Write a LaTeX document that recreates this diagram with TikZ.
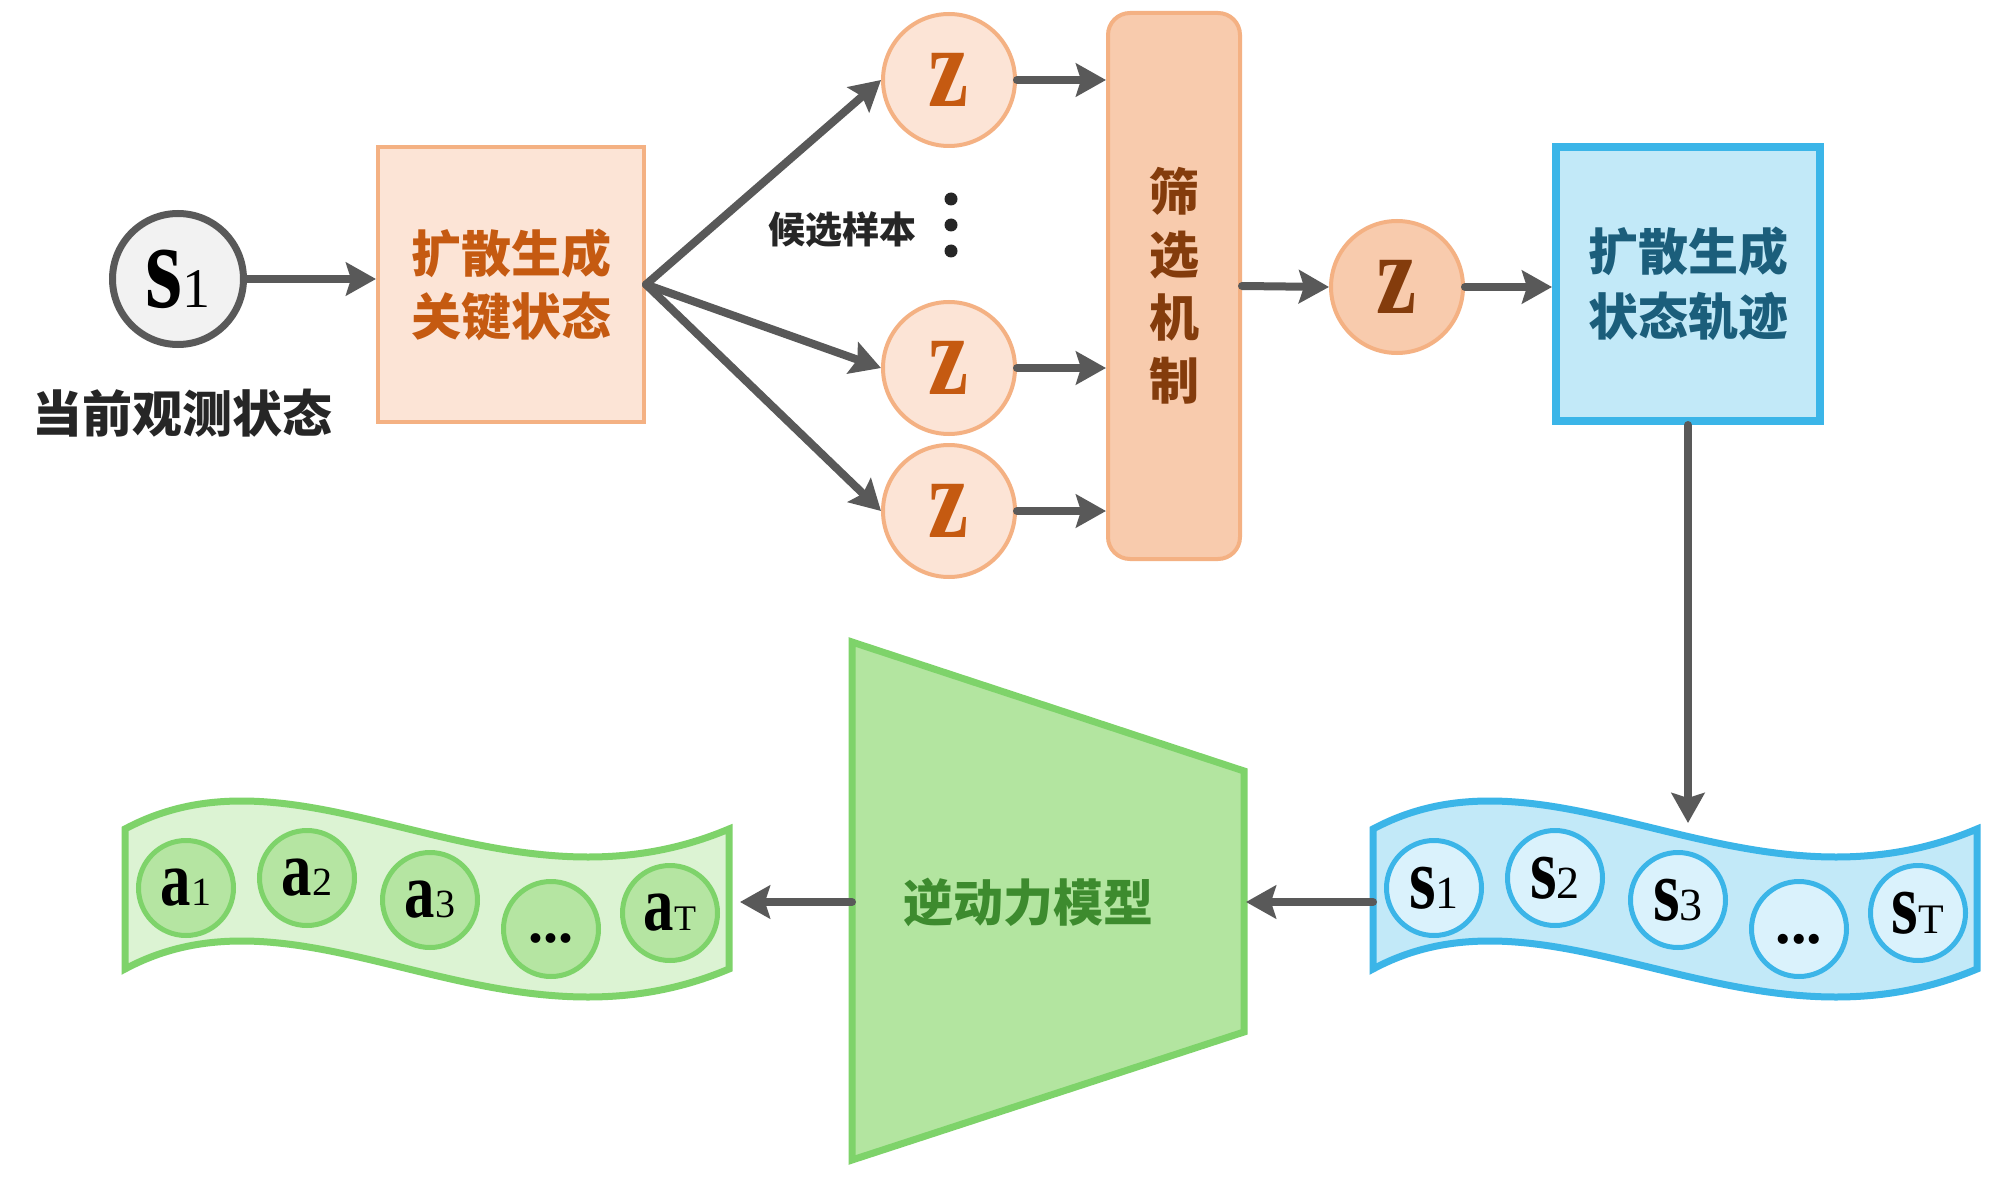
\documentclass[tikz,border=0pt]{standalone}
\usepackage{fontspec}
\usepackage{graphicx}
\usetikzlibrary{arrows.meta,calc}
\newfontfamily\cjk{Noto Sans CJK SC}
\newfontfamily\tnr{Liberation Serif}
\definecolor{arrowgray}{HTML}{595959}
\definecolor{darktext}{HTML}{262626}
\definecolor{lightgraybg}{HTML}{F2F2F2}
\definecolor{peach}{HTML}{FCE4D6}
\definecolor{peachdark}{HTML}{F8CBAD}
\definecolor{peachborder}{HTML}{F4B183}
\definecolor{orangetext}{HTML}{C55A11}
\definecolor{browntext}{HTML}{843C0C}
\definecolor{bblue}{HTML}{3BB5E8}
\definecolor{bboxfill}{HTML}{C2E9F8}
\definecolor{bcirclefill}{HTML}{DAF2FC}
\definecolor{bluetext}{HTML}{1B5E7B}
\definecolor{ggreen}{HTML}{7ED36A}
\definecolor{gbandfill}{HTML}{DCF3D3}
\definecolor{gcirclefill}{HTML}{B5E5A2}
\definecolor{trapfill}{HTML}{B3E5A0}
\definecolor{greentext}{HTML}{3D8B2E}
\newcommand\lettersub[4]{\scalebox{0.95}[1.22]{\tnr\bfseries\fontsize{#3}{#3}\selectfont #1}{\tnr\fontsize{#4}{#4}\selectfont #2}}
\newcommand\cjkfont[2]{\cjk\bfseries\fontsize{#1}{#2}\selectfont}
\newcommand\dotsnode[1]{{\tnr\bfseries\fontsize{#1}{#1}\selectfont\vphantom{s}...}}
\tikzset{
  arr/.style={draw=arrowgray, line width=8pt, line cap=round,
    -{Stealth[length=30pt,width=33pt,inset=5pt]}},
  zcircle/.style={circle, draw=peachborder, fill=peach, line width=4pt,
    minimum size=132pt, inner sep=0pt, text=orangetext},
  bcircle/.style={circle, draw=bblue, fill=bcirclefill, line width=5pt,
    minimum size=95pt, inner sep=0pt},
  gcircle/.style={circle, draw=ggreen, fill=gcirclefill, line width=5pt,
    minimum size=95pt, inner sep=0pt},
  band/.pic={\path[pic actions] (0,829) .. controls (181,732) and (374,926) .. (604,829)
     -- (604,969) .. controls (374,1066) and (181,872) .. (0,969) -- cycle;}
}
\begin{document}
\begin{tikzpicture}[x=1pt,y=-1pt]
\useasboundingbox (0,0) rectangle (2000,1182);
\fill[white] (0,0) rectangle (2000,1182);

% ---------- top row ----------
\node[circle, draw=arrowgray, fill=lightgraybg, line width=7pt, minimum size=131pt, inner sep=0pt]
  (s1main) at (178,279) {\lettersub{s}{1}{100}{56}};
\node[text=darktext, font={\cjkfont{50}{60}}] (obs) at (182,413) {当前观测状态};

\node[rectangle, draw=peachborder, fill=peach, line width=4pt, minimum width=266pt,
  minimum height=275pt, align=center, text=orangetext, font={\cjkfont{50}{63}}]
  (kbox) at (511,284.5) {扩散生成\\关键状态};

\node[zcircle] (z1) at (949,80) {\lettersub{z}{}{95}{40}};
\node[zcircle] (z2) at (949,368) {\lettersub{z}{}{95}{40}};
\node[zcircle] (z3) at (949,511) {\lettersub{z}{}{95}{40}};

\node[text=darktext, font={\cjkfont{37}{40}}] (cand) at (842,230) {候选样本};
\fill[darktext] (951,199) circle (6.5);
\fill[darktext] (951,225) circle (6.5);
\fill[darktext] (951,251) circle (6.5);

\node[rectangle, rounded corners=22pt, draw=peachborder, fill=peachdark, line width=4pt,
  minimum width=132pt, minimum height=546pt, align=center, text=browntext,
  font={\cjkfont{50}{63}}] (filter) at (1174,286) {筛\\选\\机\\制};

\node[zcircle, fill=peachdark, text=browntext] (zf) at (1397,287) {\lettersub{z}{}{95}{40}};

\node[rectangle, draw=bblue, fill=bboxfill, line width=8pt, minimum width=264pt,
  minimum height=274pt, align=center, text=bluetext, font={\cjkfont{50}{65}}]
  (bbox) at (1688,284) {扩散生成\\状态轨迹};

% ---------- bottom row ----------
\pic[draw=bblue, fill=bboxfill, line width=7pt] at (1373,0) {band};
\pic[draw=ggreen, fill=gbandfill, line width=7pt] at (125,0) {band};

\node[bcircle] (bs1) at (1434,888) {\lettersub{s}{1}{72}{46}};
\node[bcircle] (bs2) at (1555,878) {\lettersub{s}{2}{72}{46}};
\node[bcircle] (bs3) at (1678,900) {\lettersub{s}{3}{72}{46}};
\node[bcircle] (bsd) at (1799,929) {\dotsnode{62}};
\node[bcircle] (bsT) at (1918,913) {\lettersub{s}{T}{72}{42}};

\node[gcircle] (ga1) at (186,888) {\lettersub{a}{1}{64}{40}};
\node[gcircle] (ga2) at (307,878) {\lettersub{a}{2}{64}{40}};
\node[gcircle] (ga3) at (430,900) {\lettersub{a}{3}{64}{40}};
\node[gcircle] (gad) at (551,929) {\dotsnode{60}};
\node[gcircle] (gaT) at (670,913) {\lettersub{a}{T}{64}{36}};

\draw[draw=ggreen, fill=trapfill, line width=7pt, line join=miter]
  (852,642) -- (1244,771) -- (1244,1032) -- (852,1160) -- cycle;
\node[text=greentext, font={\cjkfont{50}{60}}] (inv) at (1028,902) {逆动力模型};

\coordinate (bbandW) at (1373,902);
\coordinate (trapE) at (1246,902);
\coordinate (trapW) at (852,902);
\coordinate (gbandE) at (740,902);
\coordinate (bbandN) at (1688,823);

% ---------- connectors ----------
\draw[arr] (s1main.east) -- (s1main.east -| kbox.west);
\draw[arr] (kbox.east) -- (z1.west);
\draw[arr] (kbox.east) -- (z2.west);
\draw[arr] (kbox.east) -- (z3.west);
\draw[arr] (z1.east) -- (z1.east -| filter.west);
\draw[arr] (z2.east) -- (z2.east -| filter.west);
\draw[arr] (z3.east) -- (z3.east -| filter.west);
\draw[arr] (filter.east) -- (zf.west);
\draw[arr] (zf.east) -- (zf.east -| bbox.west);
\draw[arr] (bbox.south) -- (bbandN);
\draw[arr] (bbandW) -- (trapE);
\draw[arr] (trapW) -- (gbandE);
\end{tikzpicture}
\end{document}
